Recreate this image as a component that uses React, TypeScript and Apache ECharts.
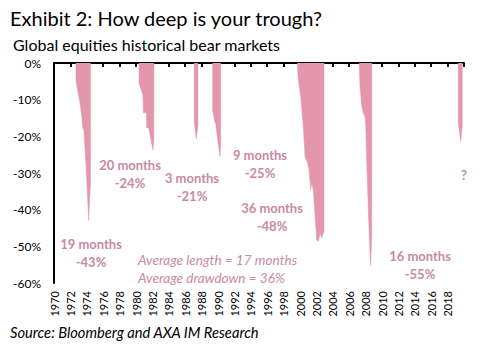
import React, { useEffect, useRef } from "react";
import * as echarts from "echarts";

// Bear-market drawdown episodes: [year, drawdown %]
const ep1973: [number, number][] = [
  [1972.68, 0], [1972.68, -4.6], [1972.8, -6.5], [1973.17, -11], [1973.41, -15],
  [1973.48, -17.5], [1973.66, -18.5], [1973.9, -28], [1974.1, -37], [1974.23, -43],
  [1974.33, -38], [1974.45, -33], [1974.45, 0],
];
const ep1980: [number, number][] = [
  [1980.37, 0], [1980.37, -5.5], [1980.6, -7], [1980.85, -8.7], [1980.9, -13.6],
  [1981.26, -13.6], [1981.3, -17.7], [1981.55, -17.7], [1982.07, -23.7],
  [1982.18, -21], [1982.18, 0],
];
const ep1987: [number, number][] = [
  [1987.1, 0], [1987.1, -16], [1987.35, -20.7], [1987.55, -17], [1987.55, 0],
];
const ep1990: [number, number][] = [
  [1989.35, 0], [1989.35, -13], [1989.6, -16], [1989.72, -16.5], [1989.85, -19],
  [1990.24, -25.5], [1990.33, -22], [1990.33, 0],
];
const ep2000: [number, number][] = [
  [1999.67, 0], [1999.79, -4.6], [2000.09, -9.2], [2000.4, -17.4], [2000.61, -25.5],
  [2000.9, -27], [2001.1, -29], [2001.3, -34.6], [2001.43, -32.7],
  [2001.62, -34.6], [2002.04, -48.3], [2002.23, -48.7], [2002.44, -46.4],
  [2002.65, -47.7], [2002.84, -46.4], [2002.93, -46], [2002.93, 0],
];
const ep2007: [number, number][] = [
  [2007.23, 0], [2007.32, -6.5], [2007.52, -11.5], [2007.72, -13.7], [2007.93, -14.6],
  [2008.01, -16.4], [2008.13, -26.5], [2008.33, -40], [2008.54, -52],
  [2008.62, -55.3], [2008.75, -47], [2008.75, 0],
];
const ep2018: [number, number][] = [
  [2019.3, 0], [2019.3, -16], [2019.59, -21.4], [2019.79, -17], [2019.79, 0],
];
const episodes = [ep1973, ep1980, ep1987, ep1990, ep2000, ep2007, ep2018];

const yTicks = [0, -10, -20, -30, -40, -50, -60];
const xStart = 1970;
const xEnd = 2020;
const xStep = 2;

const annotations = [
  { lines: ["19 months", "-43%"], x: 91, y: 244 },
  { lines: ["20 months", "-24%"], x: 130, y: 165 },
  { lines: ["3 months", "-21%"], x: 192, y: 178 },
  { lines: ["9 months", "-25%"], x: 260, y: 155 },
  { lines: ["36 months", "-48%"], x: 272, y: 208 },
  { lines: ["16 months", "-55%"], x: 420, y: 256 },
  { lines: ["?"], x: 464, y: 175 },
];
const averages = ["Average length = 17 months", "Average drawdown = 36%"];

const BAR = "#E396AC";
const TXT = "#C98A9F";
const FONT = "Lato, 'Noto Sans', sans-serif";

export default function App() {
  const ref = useRef<HTMLDivElement>(null);
  useEffect(() => {
    if (!ref.current) return;
    const chart = echarts.init(ref.current, undefined, { renderer: "svg" });
    const graphic: any[] = [
      {
        type: "text", left: 10, top: 8,
        style: { text: "Exhibit 2: How deep is your trough?", font: `20px ${FONT}`, fill: "#000" },
      },
      {
        type: "text", left: 13, top: 36,
        style: { text: "Global equities historical bear markets", font: `16px ${FONT}`, fill: "#000" },
      },
      {
        type: "text", left: 10, top: 324,
        style: { text: "Source: Bloomberg and AXA IM Research", font: `italic 14.7px ${FONT}`, fill: "#000" },
      },
    ];
    annotations.forEach((a) => {
      a.lines.forEach((l, i) => {
        graphic.push({
          type: "text", x: a.x, y: a.y + i * 18,
          style: {
            text: l, font: `bold 13px ${FONT}`, fill: TXT,
            align: "center", verticalAlign: "middle",
          },
        });
      });
    });
    averages.forEach((t, i) => {
      graphic.push({
        type: "text", x: 138, y: 260 + i * 18,
        style: { text: t, font: `italic 13.6px ${FONT}`, fill: TXT, align: "left", verticalAlign: "middle" },
      });
    });

    chart.setOption({
      animation: false,
      grid: { left: 54, right: 25, top: 63, bottom: 74 },
      xAxis: [
        {
          type: "value", position: "top", min: xStart, max: xEnd, interval: xStep,
          axisLine: { show: true, onZero: false, lineStyle: { color: "#000", width: 2 } },
          axisTick: { show: true, inside: true, length: 4, lineStyle: { color: "#000", width: 2 } },
          axisLabel: { show: false }, splitLine: { show: false },
        },
        {
          type: "value", position: "bottom", min: xStart, max: xEnd, interval: xStep,
          axisLine: { show: false, onZero: false }, axisTick: { show: false }, splitLine: { show: false },
          axisLabel: {
            rotate: 90, margin: 8, fontSize: 11, fontFamily: FONT, color: "#000",
            formatter: (v: number) => (v >= xEnd ? "" : String(v)),
          },
        },
      ],
      yAxis: {
        type: "value", min: yTicks[yTicks.length - 1], max: yTicks[0], interval: 10,
        axisLine: { show: true, onZero: false, lineStyle: { color: "#000", width: 2 } },
        axisTick: { show: false }, splitLine: { show: false },
        axisLabel: { formatter: "{value}%", fontSize: 12, fontFamily: FONT, color: "#000", margin: 13 },
      },
      series: episodes.map((ep) => ({
        type: "line", xAxisIndex: 0, data: ep, showSymbol: false, symbol: "none",
        lineStyle: { width: 0.5, color: BAR }, areaStyle: { color: BAR, opacity: 1 },
        z: 1,
      })),
      graphic,
    });
    return () => chart.dispose();
  }, []);
  return <div ref={ref} style={{ position: "fixed", left: 0, top: 0, width: 489, height: 357, background: "#fff" }} />;
}
